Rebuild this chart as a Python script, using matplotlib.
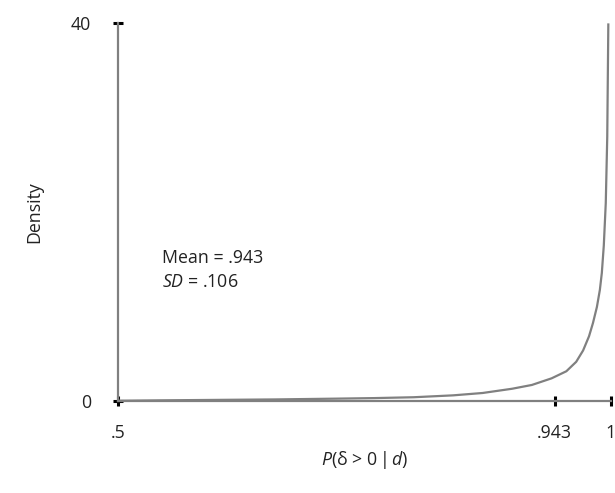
import numpy as np
import matplotlib
matplotlib.use('Agg')
import matplotlib.pyplot as plt

# Density curve: P(delta > 0 | d)
prob = [0.5, 0.54, 0.60, 0.66, 0.72, 0.76, 0.80, 0.84, 0.87, 0.90, 0.92, 0.94,
        0.955, 0.965, 0.972, 0.978, 0.982, 0.986, 0.989, 0.991, 0.993, 0.995,
        0.9965, 0.9976]
density = [0.08, 0.12, 0.17, 0.22, 0.30, 0.36, 0.45, 0.65, 0.90, 1.35, 1.75, 2.45,
           3.2, 4.2, 5.4, 6.9, 8.3, 10.0, 11.8, 13.6, 16.5, 21.0, 28.0, 40.0]

x_ticks = [0.5, 0.943, 1.0]
x_tick_labels = ['.5', '.943', '1']
y_ticks = [0, 40]
y_tick_labels = ['0', '40']

plt.rcParams['font.family'] = ['Open Sans', 'DejaVu Sans']
plt.rcParams['mathtext.fontset'] = 'custom'
plt.rcParams['mathtext.rm'] = 'Open Sans'
plt.rcParams['mathtext.it'] = 'Open Sans:italic'

fs = 12.8
txt = '#222222'

fig = plt.figure(figsize=(6.15, 4.93), dpi=100)
ax = fig.add_axes([0.192, 0.1856, 0.801, 0.767])

ax.plot(prob, density, color='#808080', lw=1.6, solid_capstyle='butt')

ax.set_xlim(0.5, 1.0)
ax.set_ylim(0, 40)

for side in ['top', 'right']:
    ax.spines[side].set_visible(False)
for side in ['left', 'bottom']:
    ax.spines[side].set_color('#808080')
    ax.spines[side].set_linewidth(1.6)

ax.set_xticks(x_ticks)
ax.set_xticklabels(x_tick_labels)
ax.set_yticks(y_ticks)
ax.set_yticklabels(y_tick_labels)
ax.tick_params(axis='both', direction='inout', length=6.5, width=2.2,
               color='black', labelsize=fs, labelcolor=txt)
ax.tick_params(axis='x', pad=13)
ax.tick_params(axis='y', pad=16)

ax.set_ylabel('Density', fontsize=fs, color=txt, labelpad=20)
ax.set_xlabel(r'$\mathit{P}$(δ > 0$\,|\,\mathit{d}$)', fontsize=fs,
              color=txt, labelpad=5)

ax.text(0.089, 0.379, 'Mean = .943', transform=ax.transAxes, fontsize=fs,
        color=txt, va='center')
ax.text(0.089, 0.316, r'$\mathit{SD}$ = .106', transform=ax.transAxes,
        fontsize=fs, color=txt, va='center')

for line in ax.get_lines():
    line.set_clip_on(False)

fig.savefig('out.png', dpi=100)
